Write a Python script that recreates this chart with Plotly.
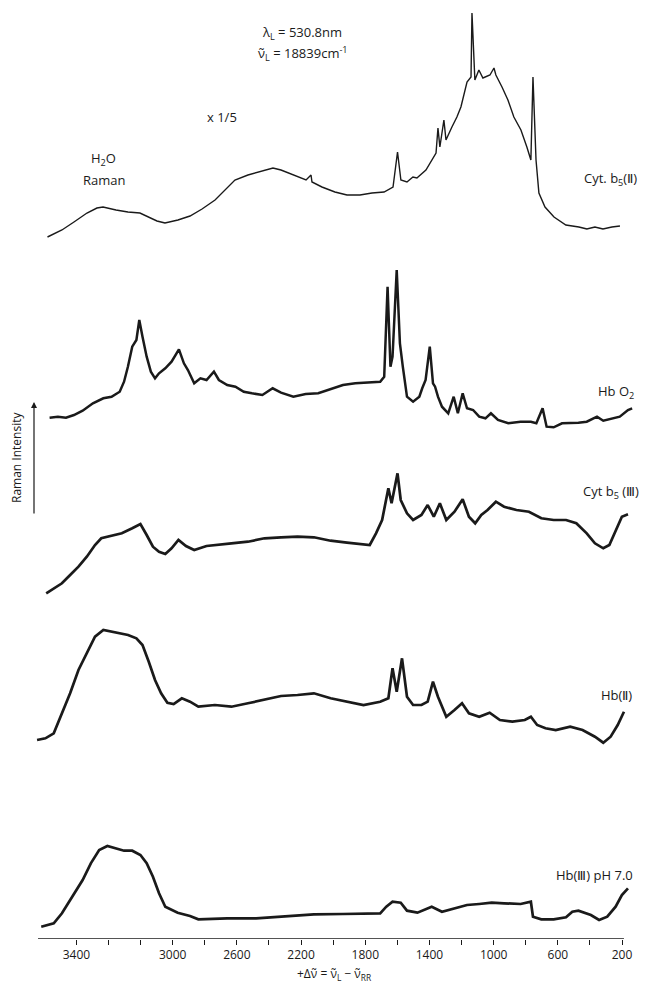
import plotly.graph_objects as go

# ---------------- data (Raman shift in cm-1, relative intensity, arbitrary units) ----------------
cyt_b5_II_shift = [3780, 3690, 3615, 3534, 3472, 3434, 3353, 3279, 3204, 3148, 3098, 3048, 2967, 2892, 2817,
                   2736, 2674, 2612, 2531, 2456, 2375, 2325, 2250, 2169, 2138, 2132, 2070, 1989, 1914, 1833,
                   1758, 1683, 1627, 1599, 1578, 1540, 1503, 1478, 1422, 1384, 1359, 1347, 1335, 1310, 1297,
                   1260, 1229, 1204, 1179, 1166, 1141, 1135, 1117, 1092, 1067, 1023, 998, 986, 948, 911,
                   874, 830, 793, 768, 755, 736, 718, 680, 624, 550, 469, 419, 369, 319, 263, 213]
cyt_b5_II_int = [3, 10, 18, 27, 32, 33, 30, 28, 27, 23, 19, 17, 20, 24, 31,
                 40, 50, 60, 65, 68, 72, 70, 65, 60, 65, 58, 53, 48, 45, 45,
                 47, 48, 53, 88, 60, 58, 63, 62, 70, 80, 87, 112, 93, 120, 100,
                 113, 123, 133, 150, 158, 163, 227, 160, 170, 162, 165, 172, 165, 153, 140,
                 123, 110, 93, 80, 163, 80, 47, 33, 23, 15, 13, 11, 13, 11, 13, 14]

hbo2_shift = [3767, 3715, 3665, 3615, 3561, 3497, 3432, 3381, 3330, 3303, 3279, 3252, 3226, 3208, 3188,
              3162, 3136, 3110, 3085, 3046, 3007, 2982, 2961, 2930, 2905, 2866, 2827, 2789, 2743, 2712,
              2660, 2609, 2557, 2506, 2441, 2377, 2325, 2248, 2171, 2093, 2016, 1939, 1862, 1784, 1707,
              1682, 1661, 1643, 1630, 1604, 1584, 1566, 1540, 1502, 1463, 1445, 1424, 1398, 1378, 1365,
              1347, 1322, 1283, 1249, 1223, 1193, 1166, 1128, 1090, 1051, 1017, 973, 909, 832, 768,
              734, 695, 670, 626, 574, 523, 472, 420, 356, 317, 265, 214, 163, 137]
hbo2_int = [2.3, 3.3, 2.3, 5, 9.3, 16.7, 21.7, 23.3, 28.3, 38.3, 53.3, 73.3, 80, 100, 83.3,
            63.3, 48.3, 41.7, 46.7, 51.7, 58.3, 65, 70.7, 56.7, 50, 36.7, 41.7, 40, 48.3, 40,
            35, 33.3, 28.3, 26.7, 25, 31.7, 27.3, 23.3, 26, 26.7, 30.7, 35, 36.7, 37.3, 38.3,
            43.3, 133.3, 53.3, 63.3, 150, 76.7, 53.3, 23.3, 18.3, 23.3, 31.7, 40, 73.3, 36.7, 33.3,
            23.3, 13.3, 6.7, 23.3, 6.7, 26.7, 11.7, 10, 3.3, 1.7, 6.7, 0, -3.3, -1.7, -1.7,
            -3.3, 11.7, -6.7, -7.3, -3.3, -3.3, -2.7, -1.7, 3.3, -0.7, 1.7, 3.3, 10, 11.7]

cyt_b5_III_shift = [3788, 3741, 3690, 3639, 3587, 3535, 3484, 3445, 3381, 3317, 3252, 3201, 3162, 3123, 3085,
                    3046, 3007, 2964, 2917, 2866, 2789, 2712, 2634, 2531, 2428, 2325, 2222, 2120, 2016, 1914,
                    1811, 1772, 1733, 1695, 1656, 1636, 1599, 1579, 1540, 1502, 1450, 1411, 1373, 1335, 1295,
                    1244, 1193, 1154, 1115, 1077, 1038, 986, 935, 858, 780, 703, 626, 549, 485, 420,
                    369, 317, 279, 240, 201, 163]
cyt_b5_III_int = [1.7, 6.7, 11.7, 20, 28.3, 38.3, 50, 56.7, 59, 61.7, 66.7, 71, 60, 48.3, 43.3,
                  41, 46.7, 55, 49, 45, 49, 50, 51.7, 53.3, 56.7, 57.7, 58.3, 57.7, 54.3, 52.3,
                  51, 50, 61.7, 75, 106.7, 91.7, 121.7, 95, 81.7, 75, 80, 90, 78.3, 91.7, 75,
                  83.3, 95.7, 78.3, 71.7, 80, 85, 93.3, 88.3, 85, 83.3, 76.7, 75, 75, 71.7, 61.7,
                  51.7, 46.7, 50, 63.3, 78.3, 80.7]

hb_II_shift = [3845, 3793, 3741, 3690, 3639, 3587, 3535, 3484, 3432, 3381, 3330, 3278, 3226, 3188, 3149,
               3110, 3072, 3033, 2994, 2943, 2892, 2840, 2737, 2634, 2531, 2428, 2325, 2222, 2120, 2016,
               1914, 1811, 1707, 1656, 1630, 1604, 1571, 1540, 1502, 1450, 1411, 1378, 1347, 1295, 1244,
               1197, 1154, 1090, 1025, 961, 883, 806, 768, 729, 677, 613, 523, 446, 369, 317,
               271, 227, 188]
hb_II_int = [2, 3.7, 8.7, 28.7, 48.7, 72, 88.7, 105.3, 112, 110.3, 108, 107, 103.7, 97, 80.3,
             62, 48.7, 39.3, 38, 43.7, 40.3, 35.3, 37, 35.3, 38.7, 42.7, 46, 47, 48.7, 43.7,
             40.3, 37, 40.3, 43.7, 73.7, 50.3, 83.7, 45.3, 37, 37, 40.3, 60.3, 45.3, 25.3, 32,
             38.7, 28.7, 25.3, 29.3, 22, 20.3, 22, 25.3, 17, 13.7, 12, 15.3, 12, 5.3, -0.7,
             5.3, 17, 30.3]

hb_III_shift = [3819, 3741, 3690, 3626, 3561, 3510, 3458, 3407, 3355, 3303, 3252, 3201, 3162, 3123, 3085,
                3046, 2969, 2892, 2840, 2660, 2480, 2300, 2120, 1939, 1707, 1669, 1630, 1579, 1540, 1475,
                1386, 1322, 1244, 1166, 1090, 1012, 935, 832, 768, 755, 703, 626, 549, 510, 472,
                394, 343, 292, 240, 201, 163]
hb_III_int = [1.3, 4.7, 14.7, 31.3, 48, 64.7, 78, 82, 79.7, 77.3, 77.3, 73, 64.7, 51.3, 34.7,
              21.3, 15.3, 12, 8.7, 9.7, 9.7, 12, 13.7, 14, 14.7, 21.3, 26.3, 25.3, 17.3, 15.3,
              21.3, 16.3, 19.7, 23, 24, 25.3, 24.7, 24, 26.3, 11.3, 8.7, 8.7, 10.7, 16.3, 17.3,
              13, 8, 11.3, 21.3, 33, 39.7]

# labelled ticks as printed on the original axis (the first tick carries "3400")
tick_values = [3600, 3000, 2600, 2200, 1800, 1400, 1000, 600, 200]
tick_labels = ["3400", "3000", "2600", "2200", "1800", "1400", "1000", "600", "200"]
minor_tick_values = [3400, 3200, 2800, 2400, 2000, 1600, 1200, 800, 400]

# vertical stacking offsets of the spectra (layout)
offsets = {"cytII": 699, "hbo2": 519, "cytIII": 344, "hbII": 197, "hbIII": 11}

FONT = "Open Sans"
INK = "#1a1a1a"

fig = go.Figure()

def add(shift, inten, off, w):
    fig.add_trace(go.Scatter(x=shift, y=[off + v for v in inten], mode="lines",
                             line=dict(color=INK, width=w), showlegend=False, hoverinfo="skip"))

add(cyt_b5_II_shift, cyt_b5_II_int, offsets["cytII"], 1.4)
add(hbo2_shift, hbo2_int, offsets["hbo2"], 2.5)
add(cyt_b5_III_shift, cyt_b5_III_int, offsets["cytIII"], 2.7)
add(hb_II_shift, hb_II_int, offsets["hbII"], 2.7)
add(hb_III_shift, hb_III_int, offsets["hbIII"], 2.7)

# x-axis baseline
fig.add_shape(type="line", xref="x", yref="y", x0=3839, x1=188, y0=0, y1=0,
              line=dict(color=INK, width=1.5))

def label(text, x, y, size=13, **kw):
    fig.add_annotation(text=text, x=x, y=y, xref="x", yref="y", showarrow=False,
                       xanchor="center", yanchor="middle",
                       font=dict(family=FONT, size=size, color=INK), **kw)

label("λ<sub>L</sub> = 530.8nm", 2194, 906)
label("ν̃<sub>L</sub> = 18839cm<sup>-1</sup>", 2188, 886)
label("x 1/5", 2693, 822)
label("H<sub>2</sub>O", 3428, 780)
label("Raman", 3428, 759)
label("Cyt. b<sub>5</sub>(Ⅱ)", 269, 760)
label("Hb O<sub>2</sub>", 238, 547)
label("Cyt b<sub>5</sub> (Ⅲ)", 269, 447)
label("Hb(Ⅱ)", 232, 244)
label("Hb(Ⅲ) pH 7.0", 369, 64)

# y-axis arrow and label
fig.add_annotation(x=(34 - 30) / 606, y=537, xref="paper", yref="y", ax=0, ay=113,
                   text="", showarrow=True, arrowhead=2, arrowsize=1, arrowwidth=1.2, arrowcolor=INK)
fig.add_annotation(x=(16 - 30) / 606, y=481, xref="paper", yref="y", text="Raman Intensity",
                   textangle=-90, showarrow=False, xanchor="center", yanchor="middle",
                   font=dict(family=FONT, size=12, color=INK))

# x-axis title
fig.add_annotation(x=1989, y=-35 / 939, xref="x", yref="paper", showarrow=False,
                   xanchor="center", yanchor="middle",
                   text="+Δν̃ = ν̃<sub>L</sub> − ν̃<sub>RR</sub>",
                   font=dict(family=FONT, size=12, color=INK))

fig.update_layout(
    width=646, height=982,
    margin=dict(l=30, r=10, t=0, b=43),
    paper_bgcolor="white", plot_bgcolor="white",
    xaxis=dict(range=[3889, 113], showgrid=False, zeroline=False, showline=False,
               tickmode="array", tickvals=tick_values, ticktext=tick_labels,
               ticks="outside", ticklen=5, tickwidth=1.3, tickcolor=INK,
               tickfont=dict(family=FONT, size=12, color=INK),
               minor=dict(tickmode="array", tickvals=minor_tick_values, ticks="outside",
                          ticklen=5, tickwidth=1.3, tickcolor=INK, showgrid=False)),
    yaxis=dict(range=[0, 939], visible=False),
)

fig.write_html("out.html")
